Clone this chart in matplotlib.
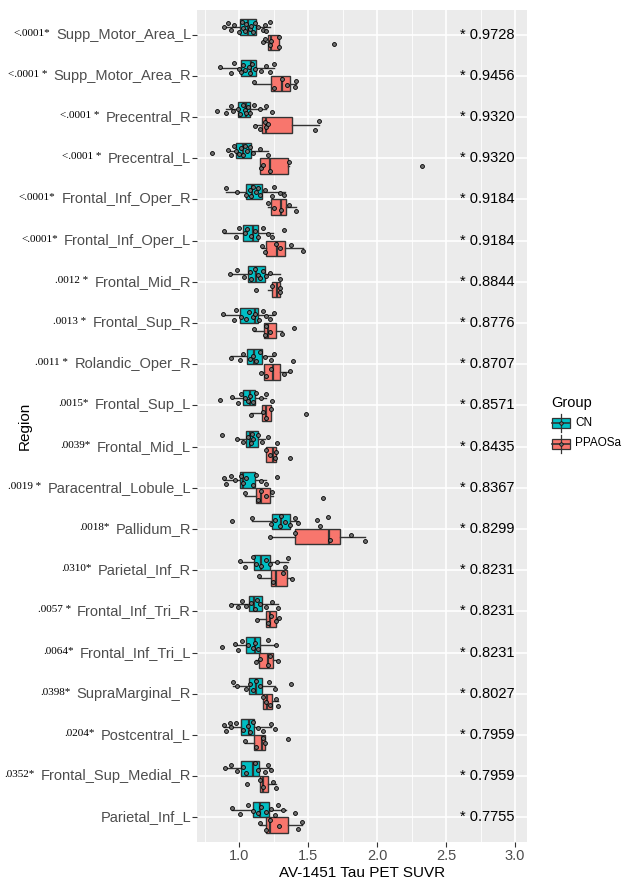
import numpy as np
import matplotlib
matplotlib.use("Agg")
import matplotlib.pyplot as plt
from matplotlib.patches import Rectangle
from matplotlib.lines import Line2D

plt.rcParams['font.family'] = ['Liberation Sans', 'DejaVu Sans']

# régions, p-values et AUC
regions = ["Supp_Motor_Area_L", "Supp_Motor_Area_R", "Precentral_R", "Precentral_L",
           "Frontal_Inf_Oper_R", "Frontal_Inf_Oper_L", "Frontal_Mid_R", "Frontal_Sup_R",
           "Rolandic_Oper_R", "Frontal_Sup_L", "Frontal_Mid_L", "Paracentral_Lobule_L",
           "Pallidum_R", "Parietal_Inf_R", "Frontal_Inf_Tri_R", "Frontal_Inf_Tri_L",
           "SupraMarginal_R", "Postcentral_L", "Frontal_Sup_Medial_R", "Parietal_Inf_L"]
pvals = ["<.0001*", "<.0001 *", "<.0001 *", "<.0001 *", "<.0001*", "<.0001*",
         ".0012 *", ".0013 *", ".0011 *", ".0015*", ".0039*", ".0019 *", ".0018*",
         ".0310*", ".0057 *", ".0064*", ".0398*", ".0204*", ".0352*", ""]
aucs = ["0.9728", "0.9456", "0.9320", "0.9320", "0.9184", "0.9184", "0.8844", "0.8776",
        "0.8707", "0.8571", "0.8435", "0.8367", "0.8299", "0.8231", "0.8231", "0.8231",
        "0.8027", "0.7959", "0.7959", "0.7755"]

# boîtes CN : moustache basse, Q1, médiane, Q3, moustache haute
cn_lo = [.891, .865, .908, .920, .903, .891, .932, .884, .944, .952, .988, .891, 1.094, 1.010, .944, .969, .957, .891, .896, .949]
cn_q1 = [1.010, 1.014, .995, .976, 1.053, 1.029, 1.065, 1.005, 1.058, 1.031, 1.048, 1.005, 1.237, 1.109, 1.072, 1.048, 1.072, 1.014, 1.014, 1.104]
cn_med = [1.068, 1.087, 1.053, 1.029, 1.097, 1.101, 1.126, 1.114, 1.109, 1.077, 1.077, 1.029, 1.307, 1.162, 1.106, 1.114, 1.121, 1.072, 1.101, 1.150]
cn_q3 = [1.126, 1.121, 1.080, 1.083, 1.167, 1.138, 1.188, 1.140, 1.167, 1.118, 1.138, 1.114, 1.367, 1.227, 1.169, 1.150, 1.169, 1.109, 1.145, 1.217]
cn_hi = [1.227, 1.251, 1.198, 1.210, 1.331, 1.246, 1.295, 1.251, 1.251, 1.198, 1.186, 1.198, 1.428, 1.355, 1.285, 1.271, 1.258, 1.234, 1.234, 1.343]

# boîtes PPAOSa
pp_lo = [1.174, 1.109, 1.114, 1.150, 1.210, 1.169, 1.210, 1.106, 1.162, 1.089, 1.198, 1.043, 1.227, 1.145, 1.130, 1.126, 1.174, 1.043, 1.152, 1.150]
pp_q1 = [1.208, 1.234, 1.169, 1.150, 1.232, 1.193, 1.237, 1.181, 1.181, 1.164, 1.198, 1.126, 1.403, 1.232, 1.198, 1.145, 1.174, 1.109, 1.152, 1.193]
pp_med = [1.234, 1.309, 1.198, 1.227, 1.302, 1.278, 1.275, 1.210, 1.246, 1.198, 1.246, 1.162, 1.652, 1.271, 1.222, 1.210, 1.203, 1.169, 1.174, 1.222]
pp_q3 = [1.292, 1.372, 1.384, 1.357, 1.343, 1.333, 1.300, 1.268, 1.297, 1.229, 1.266, 1.222, 1.734, 1.350, 1.271, 1.246, 1.242, 1.191, 1.210, 1.355]
pp_hi = [1.292, 1.415, 1.580, 1.362, 1.411, 1.464, 1.300, 1.314, 1.372, 1.229, 1.266, 1.246, 1.915, 1.386, 1.290, 1.283, 1.283, 1.191, 1.271, 1.454]

# points individuels
cn_pts = [
    [.891, .920, .940, .964, 1.000, 1.024, 1.029, 1.041, 1.053, 1.077, 1.089, 1.101, 1.114, 1.138, 1.174, 1.186, 1.198, 1.227],
    [.865, .944, .964, 1.000, 1.017, 1.029, 1.046, 1.070, 1.080, 1.097, 1.114, 1.157, 1.193, 1.222, 1.251],
    [.840, .908, .940, .957, .993, 1.005, 1.029, 1.046, 1.053, 1.065, 1.080, 1.109, 1.150, 1.198, 1.242],
    [.807, .920, .940, .964, .981, 1.000, 1.017, 1.029, 1.041, 1.060, 1.077, 1.101, 1.150, 1.210],
    [.903, .986, 1.053, 1.077, 1.090, 1.101, 1.120, 1.138, 1.155, 1.186, 1.242, 1.251, 1.295, 1.324],
    [.891, .981, 1.000, 1.041, 1.060, 1.089, 1.114, 1.138, 1.174, 1.210, 1.242, 1.324],
    [.932, .988, 1.036, 1.077, 1.089, 1.114, 1.138, 1.150, 1.174, 1.198, 1.227, 1.295],
    [.884, .964, .981, 1.017, 1.053, 1.072, 1.101, 1.114, 1.145, 1.174, 1.198, 1.227, 1.251],
    [.944, 1.005, 1.029, 1.077, 1.101, 1.126, 1.150, 1.188, 1.234, 1.251, 1.394],
    [.865, .952, .993, 1.017, 1.041, 1.065, 1.077, 1.101, 1.126, 1.162, 1.198, 1.242],
    [.877, .988, 1.029, 1.065, 1.089, 1.097, 1.101, 1.138, 1.169, 1.210, 1.278],
    [.891, .908, .944, .969, 1.017, 1.029, 1.053, 1.101, 1.126, 1.162, 1.198, 1.278],
    [.952, 1.094, 1.234, 1.258, 1.295, 1.307, 1.331, 1.367, 1.403, 1.428, 1.565, 1.589, 1.645],
    [1.010, 1.041, 1.101, 1.126, 1.162, 1.198, 1.222, 1.275, 1.331, 1.355],
    [.944, .993, 1.024, 1.053, 1.089, 1.114, 1.130, 1.150, 1.198, 1.242, 1.285],
    [.877, .969, .993, 1.024, 1.065, 1.101, 1.114, 1.138, 1.210, 1.271],
    [.957, .986, 1.053, 1.077, 1.101, 1.126, 1.150, 1.217, 1.258, 1.374],
    [.891, .908, .932, .944, .981, 1.029, 1.065, 1.077, 1.101, 1.138, 1.174, 1.234, 1.258],
    [.896, .944, .986, 1.029, 1.053, 1.114, 1.138, 1.186, 1.210, 1.234],
    [.949, 1.005, 1.065, 1.101, 1.138, 1.162, 1.198, 1.234, 1.258, 1.283, 1.319, 1.403],
]
pp_pts = [
    [1.174, 1.191, 1.222, 1.234, 1.287, 1.292, 1.688],
    [1.109, 1.254, 1.312, 1.348, 1.403, 1.415],
    [1.114, 1.150, 1.186, 1.198, 1.210, 1.548, 1.580],
    [1.157, 1.174, 1.227, 1.362, 2.329],
    [1.210, 1.254, 1.302, 1.362, 1.411],
    [1.169, 1.186, 1.271, 1.295, 1.379, 1.464],
    [1.126, 1.242, 1.295, 1.300],
    [1.106, 1.186, 1.198, 1.222, 1.314, 1.399],
    [1.162, 1.198, 1.234, 1.324, 1.372],
    [1.085, 1.174, 1.198, 1.229, 1.483],
    [1.198, 1.227, 1.258, 1.266, 1.372],
    [1.043, 1.138, 1.162, 1.198, 1.242, 1.609],
    [1.227, 1.403, 1.657, 1.809, 1.915],
    [1.145, 1.246, 1.319, 1.386],
    [1.130, 1.210, 1.234, 1.271, 1.290],
    [1.126, 1.150, 1.210, 1.222, 1.283],
    [1.174, 1.198, 1.222, 1.271, 1.283],
    [1.043, 1.126, 1.174, 1.191, 1.353],
    [1.058, 1.155, 1.174, 1.246, 1.271],
    [1.150, 1.198, 1.227, 1.287, 1.428, 1.454],
]

cn_col = "#00BFC4"
pp_col = "#F8766D"
edge = "#333333"
jit = [0.0, -0.09, 0.07, -0.04, 0.11, -0.12, 0.03, 0.09, -0.07, 0.05, -0.02, 0.12,
       -0.10, 0.01, 0.08, -0.05, 0.10, -0.11]

fig = plt.figure(figsize=(6.26, 8.84), dpi=100)
ax = fig.add_axes([197 / 626, 1 - 842 / 884, 330 / 626, 832 / 884])
ax.set_facecolor("#EBEBEB")
for s in ax.spines.values():
    s.set_visible(False)

n = len(regions)
rows = np.arange(n)
dw = 0.1875

def stats(lo, q1, med, q3, hi):
    return [dict(whislo=a, q1=b, med=c, q3=d, whishi=e) for a, b, c, d, e in zip(lo, q1, med, q3, hi)]

for st, pos, col in [(stats(cn_lo, cn_q1, cn_med, cn_q3, cn_hi), rows - dw, cn_col),
                     (stats(pp_lo, pp_q1, pp_med, pp_q3, pp_hi), rows + dw, pp_col)]:
    ax.bxp(st, positions=pos, widths=0.375, orientation="horizontal", patch_artist=True,
           showfliers=False, showcaps=False, manage_ticks=False,
           boxprops=dict(facecolor=col, edgecolor=edge, linewidth=1.0),
           medianprops=dict(color=edge, linewidth=1.6),
           whiskerprops=dict(color=edge, linewidth=1.0), zorder=3)

for i in range(n):
    for pts, c in [(cn_pts[i], i - dw), (pp_pts[i], i + dw)]:
        yy = [c + jit[(k + i * 3) % len(jit)] for k in range(len(pts))]
        ax.plot(pts, yy, "o", ms=2.8, mfc="#6f6f6f", mec="black", mew=0.6, ls="none", zorder=4)
    ax.text(2.80, i, "* " + aucs[i], ha="center", va="center", fontsize=10.5, color="black", zorder=5)

ax.set_xlim(0.695, 3.087)
ax.set_ylim(n - 0.4, -0.6)
ax.set_xticks([1.0, 1.5, 2.0, 2.5, 3.0])
ax.set_xticklabels(["1.0", "1.5", "2.0", "2.5", "3.0"], fontsize=10.5, color="#4D4D4D")
ax.set_xticks(np.arange(0.75, 3.0, 0.5), minor=True)
ax.set_yticks(rows)
ax.set_yticklabels([])
ax.tick_params(axis="both", length=3.5, color="#333333", width=0.8, pad=1.5)
ax.tick_params(axis="x", which="minor", length=0)
ax.grid(True, which="major", color="white", linewidth=1.2, zorder=0)
ax.grid(True, which="minor", axis="x", color="white", linewidth=0.6, zorder=0)
ax.set_axisbelow(True)
ax.set_xlabel("AV-1451 Tau PET SUVR", fontsize=11, labelpad=2)
ax.set_ylabel("Region", fontsize=11, labelpad=0)
ax.yaxis.set_label_coords(-0.50, 0.5)

# étiquettes de régions + p-values en exposant
trans = ax.get_yaxis_transform()
for i in range(n):
    t = ax.annotate(regions[i], xy=(0, i), xycoords=trans, xytext=(-6, 0), textcoords="offset pixels",
                    ha="right", va="center", fontsize=10.5, color="#4D4D4D")
    if pvals[i]:
        ax.annotate(pvals[i], xy=(0, 1), xycoords=t, xytext=(-6, -1), textcoords="offset pixels",
                    ha="right", va="top", fontsize=8, family=["Liberation Serif", "DejaVu Serif"],
                    color="black")

# légende dessinée à la main
lg = fig.add_axes([0, 0, 1, 1], facecolor="none")
lg.set_xlim(0, 626)
lg.set_ylim(884, 0)
lg.axis("off")
lg.text(551, 403, "Group", fontsize=10.5, va="center", ha="left")
for yc, col, lab in [(422.5, cn_col, "CN"), (443.5, pp_col, "PPAOSa")]:
    lg.add_line(Line2D([561, 561], [yc - 9, yc + 9], color=edge, lw=0.9))
    lg.add_patch(Rectangle((552, yc - 5), 18, 10, facecolor=col, edgecolor=edge, lw=0.9))
    lg.add_line(Line2D([552, 570], [yc, yc], color=edge, lw=1.2))
    lg.plot([561], [yc], "o", ms=2.5, mfc="#6f6f6f", mec="black", mew=0.5)
    lg.text(575, yc, lab, fontsize=8.5, va="center", ha="left")

fig.savefig("out.png", dpi=100)
